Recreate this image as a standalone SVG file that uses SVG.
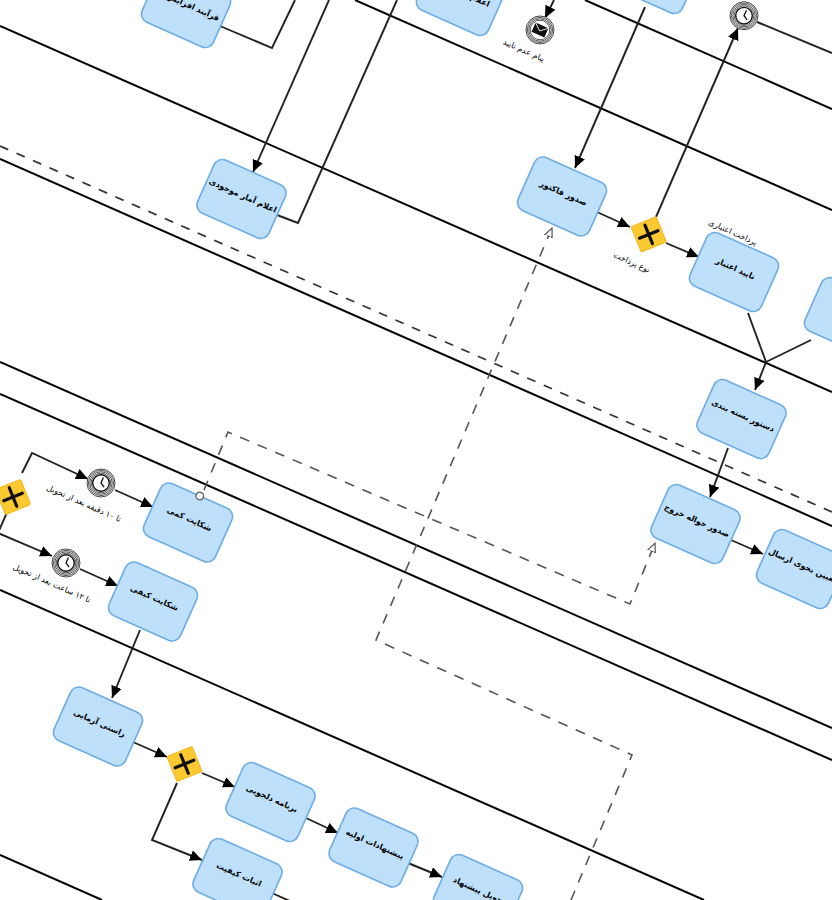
<svg xmlns="http://www.w3.org/2000/svg" width="832" height="900" viewBox="0 0 832 900">
<style>
.lane{stroke:#000;stroke-width:2;fill:none}
.ldash{stroke:#333;stroke-width:1.7;fill:none;stroke-dasharray:9 9}
.flow{stroke:#222;stroke-width:1.9;fill:none;stroke-linejoin:miter}
.arr{marker-end:url(#ah)}
.msg{stroke:#555;stroke-width:1.6;fill:none;stroke-dasharray:10 9}
.task{fill:#bfe0fb;stroke:#6cade6;stroke-width:1.6}
.gw{fill:#fdc930;stroke:#f6bb25;stroke-width:1.2}
.gx{stroke:#111;stroke-width:3.2;stroke-linecap:round;fill:none}
text{font-family:"DejaVu Sans",sans-serif;text-anchor:middle;direction:rtl;fill:#000}
.tl{font-size:8px;font-weight:bold}
.lb{font-size:8px}
.ring{fill:none;stroke:#444;stroke-width:.9}
</style>
<defs>
<marker id="ah" markerUnits="userSpaceOnUse" markerWidth="14" markerHeight="12" refX="12" refY="5.5" orient="auto"><path d="M0 0L12 5.5L0 11Z" fill="#000"/></marker>
<marker id="oh" markerUnits="userSpaceOnUse" markerWidth="12" markerHeight="10" refX="9" refY="4.5" orient="auto"><path d="M0 0.5L9 4.5L0 8.5Z" fill="#fff" stroke="#555" stroke-width="1.2"/></marker>
<g id="rings"><circle r="14" fill="#fff" stroke="#444"/><circle class="ring" r="12.6"/><circle class="ring" r="11.2"/><circle class="ring" r="9.8"/></g>
<g id="clock"><use href="#rings"/><circle r="8.3" fill="#fff" stroke="#111" stroke-width="1.4"/><path d="M0-6L0 0L4.5 2.5" fill="none" stroke="#111" stroke-width="1.3" transform="rotate(24)"/></g>
<g id="gate"><rect class="gw" x="-13.5" y="-13.5" width="27" height="27" rx="1.5" transform="rotate(-22)"/><path class="gx" d="M-10 0H10M0-10V10" transform="rotate(-22)"/></g>
</defs>
<rect width="832" height="900" fill="#fff"/>
<g id="lanes">
<path class="lane" d="M585 0L832 109"/>
<path class="lane" d="M355 0L832 210"/>
<path class="lane" d="M0 26L832 392"/>
<path class="ldash" d="M0 146L832 512"/>
<path class="lane" d="M0 159L832 526"/>
<path class="lane" d="M0 362L832 728"/>
<path class="lane" d="M0 394L832 760"/>
<path class="lane" d="M0 590L704 900"/>
<path class="lane" d="M0 855L102 900"/>
</g>
<g id="connectors">
<path class="flow" d="M220 26L272 48L295 0"/>
<path class="flow arr" d="M329 0L253 172"/>
<path class="flow" d="M277 215L298 223L397 0"/>
<path class="flow arr" d="M554 0L545 18"/>
<path class="flow arr" d="M645 7L575 168"/>
<path class="flow arr" d="M656 217L738 28"/>
<path class="flow" d="M757 22L832 53"/>
<path class="flow arr" d="M597 212L630 227"/>
<path class="flow arr" d="M666 243L699 257"/>
<path class="flow" d="M748 313L766 362"/>
<path class="flow" d="M811 340L766 362"/>
<path class="flow arr" d="M766 362L755 390"/>
<path class="flow arr" d="M728 448L710 497"/>
<path class="flow arr" d="M731 540L763 554"/>
<path class="flow arr" d="M22 473L32 453L88 479"/>
<path class="flow arr" d="M115 490L153 507"/>
<path class="flow arr" d="M8 510L-2 533L52 556"/>
<path class="flow arr" d="M80 569L118 586"/>
<path class="flow arr" d="M140 630L112 698"/>
<path class="flow arr" d="M133 742L167 757"/>
<path class="flow arr" d="M202 773L235 787"/>
<path class="flow arr" d="M177 783L152 840L202 860"/>
<path class="flow arr" d="M306 818L338 833"/>
<path class="flow arr" d="M408 863L442 877"/>
<path class="flow" d="M272 893L292 902"/>
<path class="msg" d="M571 900L632 755L376 640L552 228" marker-end="url(#oh)"/>
<path class="msg" d="M204 490L228 432L630 604L655 543" marker-end="url(#oh)"/>
</g>
<g id="n-farayand" transform="translate(186 8) rotate(24)"><rect class="task" x="-39" y="-29" width="78" height="58" rx="9"/><text class="tl" x="6" y="-1">فرآیند افزایش</text></g>
<g id="n-top1" transform="translate(461 -4) rotate(24)"><rect class="task" x="-39" y="-29" width="78" height="58" rx="9"/><text class="tl" y="-1">اعلام عدم تایید</text></g>
<g id="n-top2" transform="translate(655 -26) rotate(24)"><rect class="task" x="-39" y="-29" width="78" height="58" rx="9"/></g>
<g id="n-amar" transform="translate(241.5 199) rotate(24)"><rect class="task" x="-39" y="-29" width="78" height="58" rx="9"/><text class="tl" y="-1">اعلام آمار موجودی</text></g>
<g id="n-factor" transform="translate(562 196.5) rotate(24)"><rect class="task" x="-39" y="-29" width="78" height="58" rx="9"/><text class="tl" y="-1">صدور فاکتور</text></g>
<g id="n-etebar" transform="translate(734 272) rotate(24)"><rect class="task" x="-39" y="-29" width="78" height="58" rx="9"/><text class="tl" y="-1">تایید اعتبار</text></g>
<g id="n-pardakht" transform="translate(849 317) rotate(24)"><rect class="task" x="-39" y="-29" width="78" height="58" rx="9"/><text class="tl" y="-1">پرداخت</text></g>
<g id="n-baste" transform="translate(741.5 419) rotate(24)"><rect class="task" x="-39" y="-29" width="78" height="58" rx="9"/><text class="tl" y="-1">دستور بسته بندی</text></g>
<g id="n-havale" transform="translate(695.5 524) rotate(24)"><rect class="task" x="-39" y="-29" width="78" height="58" rx="9"/><text class="tl" y="-1">صدور حواله خروج</text></g>
<g id="n-ersal" transform="translate(801 569) rotate(24)"><rect class="task" x="-39" y="-29" width="78" height="58" rx="9"/><text class="tl" y="-1">تعیین نحوی ارسال</text></g>
<g id="n-kami" transform="translate(188 522.5) rotate(24)"><rect class="task" x="-39" y="-29" width="78" height="58" rx="9"/><text class="tl" y="-1">شکایت کمی</text><circle cy="-29" r="3.8" fill="#fff" stroke="#555" stroke-width="1.3"/></g>
<g id="n-keyfi" transform="translate(153 601.5) rotate(24)"><rect class="task" x="-39" y="-29" width="78" height="58" rx="9"/><text class="tl" y="-1">شکایت کیفی</text></g>
<g id="n-rasti" transform="translate(98 726.5) rotate(24)"><rect class="task" x="-39" y="-29" width="78" height="58" rx="9"/><text class="tl" y="-1">راستی آزمایی</text></g>
<g id="n-deljooyi" transform="translate(270.5 802) rotate(24)"><rect class="task" x="-39" y="-29" width="78" height="58" rx="9"/><text class="tl" y="-1">برنامه دلجویی</text></g>
<g id="n-esbat" transform="translate(237.5 878) rotate(24)"><rect class="task" x="-39" y="-29" width="78" height="58" rx="9"/><text class="tl" y="-1">اثبات کیفیت</text></g>
<g id="n-pishnahad" transform="translate(373.5 847.5) rotate(24)"><rect class="task" x="-39" y="-29" width="78" height="58" rx="9"/><text class="tl" y="-1">پیشنهادات اولیه</text></g>
<g id="n-tahvil" transform="translate(478 894) rotate(24)"><rect class="task" x="-39" y="-29" width="78" height="58" rx="9"/><text class="tl" y="-1">تحویل پیشنهاد</text></g>
<g id="gw-pay" transform="translate(648.7 234.4)"><use href="#gate"/></g>
<g id="gw-left" transform="translate(13 497)"><use href="#gate"/></g>
<g id="gw-low" transform="translate(184.5 764)"><use href="#gate"/></g>
<g id="ev-msg" transform="translate(540 30)"><use href="#rings"/><circle r="9" fill="#fff"/><g transform="rotate(24)"><rect x="-7" y="-5" width="14" height="10" fill="#111"/><path d="M-7-5L0 1L7-5" fill="none" stroke="#fff" stroke-width=".8"/></g></g>
<g id="ev-t1" transform="translate(744 15.7)"><use href="#clock"/></g>
<g id="ev-t2" transform="translate(101 483)"><use href="#clock"/></g>
<g id="ev-t3" transform="translate(66 563)"><use href="#clock"/></g>
<g id="labels">
<text class="lb" transform="translate(524 50) rotate(24)" y="3">پیام عدم تایید</text>
<text class="lb" transform="translate(632 262) rotate(24)" y="3">نوع پرداخت</text>
<text class="lb" transform="translate(733 232) rotate(24)" y="3">پرداخت اعتباری</text>
<text class="lb" transform="translate(84 503) rotate(24)" y="3">تا ۱۰ دقیقه بعد از تحویل</text>
<text class="lb" transform="translate(52 583) rotate(24)" y="3">تا ۱۲ ساعت بعد از تحویل</text>
</g>
</svg>
